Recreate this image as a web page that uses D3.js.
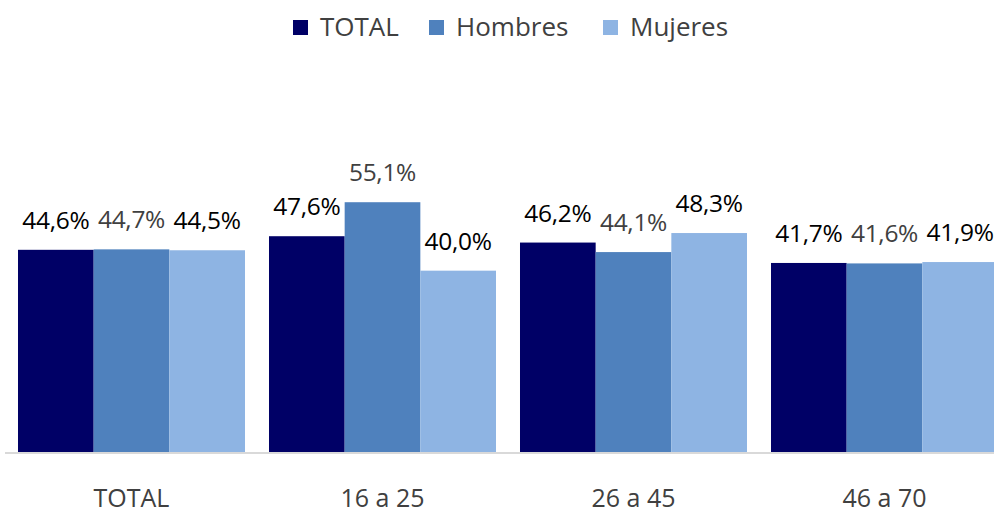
<!DOCTYPE html>
<html>
<head>
<meta charset="utf-8">
<script src="https://cdn.jsdelivr.net/npm/d3@7"></script>
<style>
  body { margin:0; background:#fff; }
  svg text { font-family: "Open Sans", "Noto Sans", sans-serif; }
</style>
</head>
<body>
<svg id="chart" width="994" height="513"></svg>
<script>
// categories and series
var categories = ["TOTAL", "16 a 25", "26 a 45", "46 a 70"];
var seriesNames = ["TOTAL", "Hombres", "Mujeres"];
var totalVals = [44.6, 47.6, 46.2, 41.7];
var hombresVals = [44.7, 55.1, 44.1, 41.6];
var mujeresVals = [44.5, 40.0, 48.3, 41.9];

var colors = ["#000066", "#4f81bd", "#8eb4e3"];
var labelColors = ["#000", "#404040", "#000"];

var svg = d3.select("#chart");
var W = 994, H = 513;
var base = 452;

var x0 = d3.scaleBand()
    .domain(categories)
    .range([6, 6 + 4 * 251])
    .paddingInner(0.0956)
    .paddingOuter(0.0478);

var x1 = d3.scaleBand()
    .domain(seriesNames)
    .range([0, x0.bandwidth()]);

var y = d3.scaleLinear().domain([0, 60]).range([base, 180]);

var rows = categories.map(function(c, i) {
  return { cat: c, vals: [totalVals[i], hombresVals[i], mujeresVals[i]] };
});

var groups = svg.selectAll(".grp")
    .data(rows)
    .enter().append("g")
    .attr("class", "grp")
    .attr("transform", function(d) { return "translate(" + x0(d.cat) + ",0)"; });

groups.selectAll("rect")
    .data(function(d) { return d.vals.map(function(v, k) { return { s: seriesNames[k], v: v, k: k }; }); })
    .enter().append("rect")
    .attr("x", function(d) { return x1(d.s); })
    .attr("width", x1.bandwidth())
    .attr("y", function(d) { return y(d.v); })
    .attr("height", function(d) { return base - y(d.v); })
    .attr("fill", function(d) { return colors[d.k]; });

groups.selectAll(".lbl")
    .data(function(d) { return d.vals.map(function(v, k) { return { s: seriesNames[k], v: v, k: k }; }); })
    .enter().append("text")
    .attr("class", "lbl")
    .attr("x", function(d) { return x1(d.s) + x1.bandwidth() / 2; })
    .attr("y", function(d) { return y(d.v) - 21; })
    .attr("text-anchor", "middle")
    .style("font-size", "24.5px")
    .style("letter-spacing", "-0.3px")
    .style("fill", function(d) { return labelColors[d.k]; })
    .text(function(d) { return d3.format(".1f")(d.v).replace(".", ",") + "%"; });

// baseline
svg.append("line")
    .attr("x1", 5).attr("x2", W)
    .attr("y1", base + 1).attr("y2", base + 1)
    .attr("stroke", "#d9d9d9").attr("stroke-width", 2);

// category labels
var xAxis = svg.append("g").attr("transform", "translate(0," + base + ")")
    .call(d3.axisBottom(x0).tickSize(0).tickPadding(37));
xAxis.select(".domain").remove();
xAxis.selectAll("text")
    .style("font-size", "25px")
    .style("fill", "#404040")
    .attr("font-family", null);

// legend
var legendX = [293, 429, 603];
var leg = svg.selectAll(".leg")
    .data(seriesNames)
    .enter().append("g")
    .attr("class", "leg")
    .attr("transform", function(d, i) { return "translate(" + legendX[i] + ",20)"; });
leg.append("rect").attr("width", 15).attr("height", 15)
    .attr("fill", function(d, i) { return colors[i]; });
leg.append("text").attr("x", 27).attr("y", 16)
    .style("font-size", "26px").style("fill", "#404040")
    .text(function(d) { return d; });
</script>
</body>
</html>
